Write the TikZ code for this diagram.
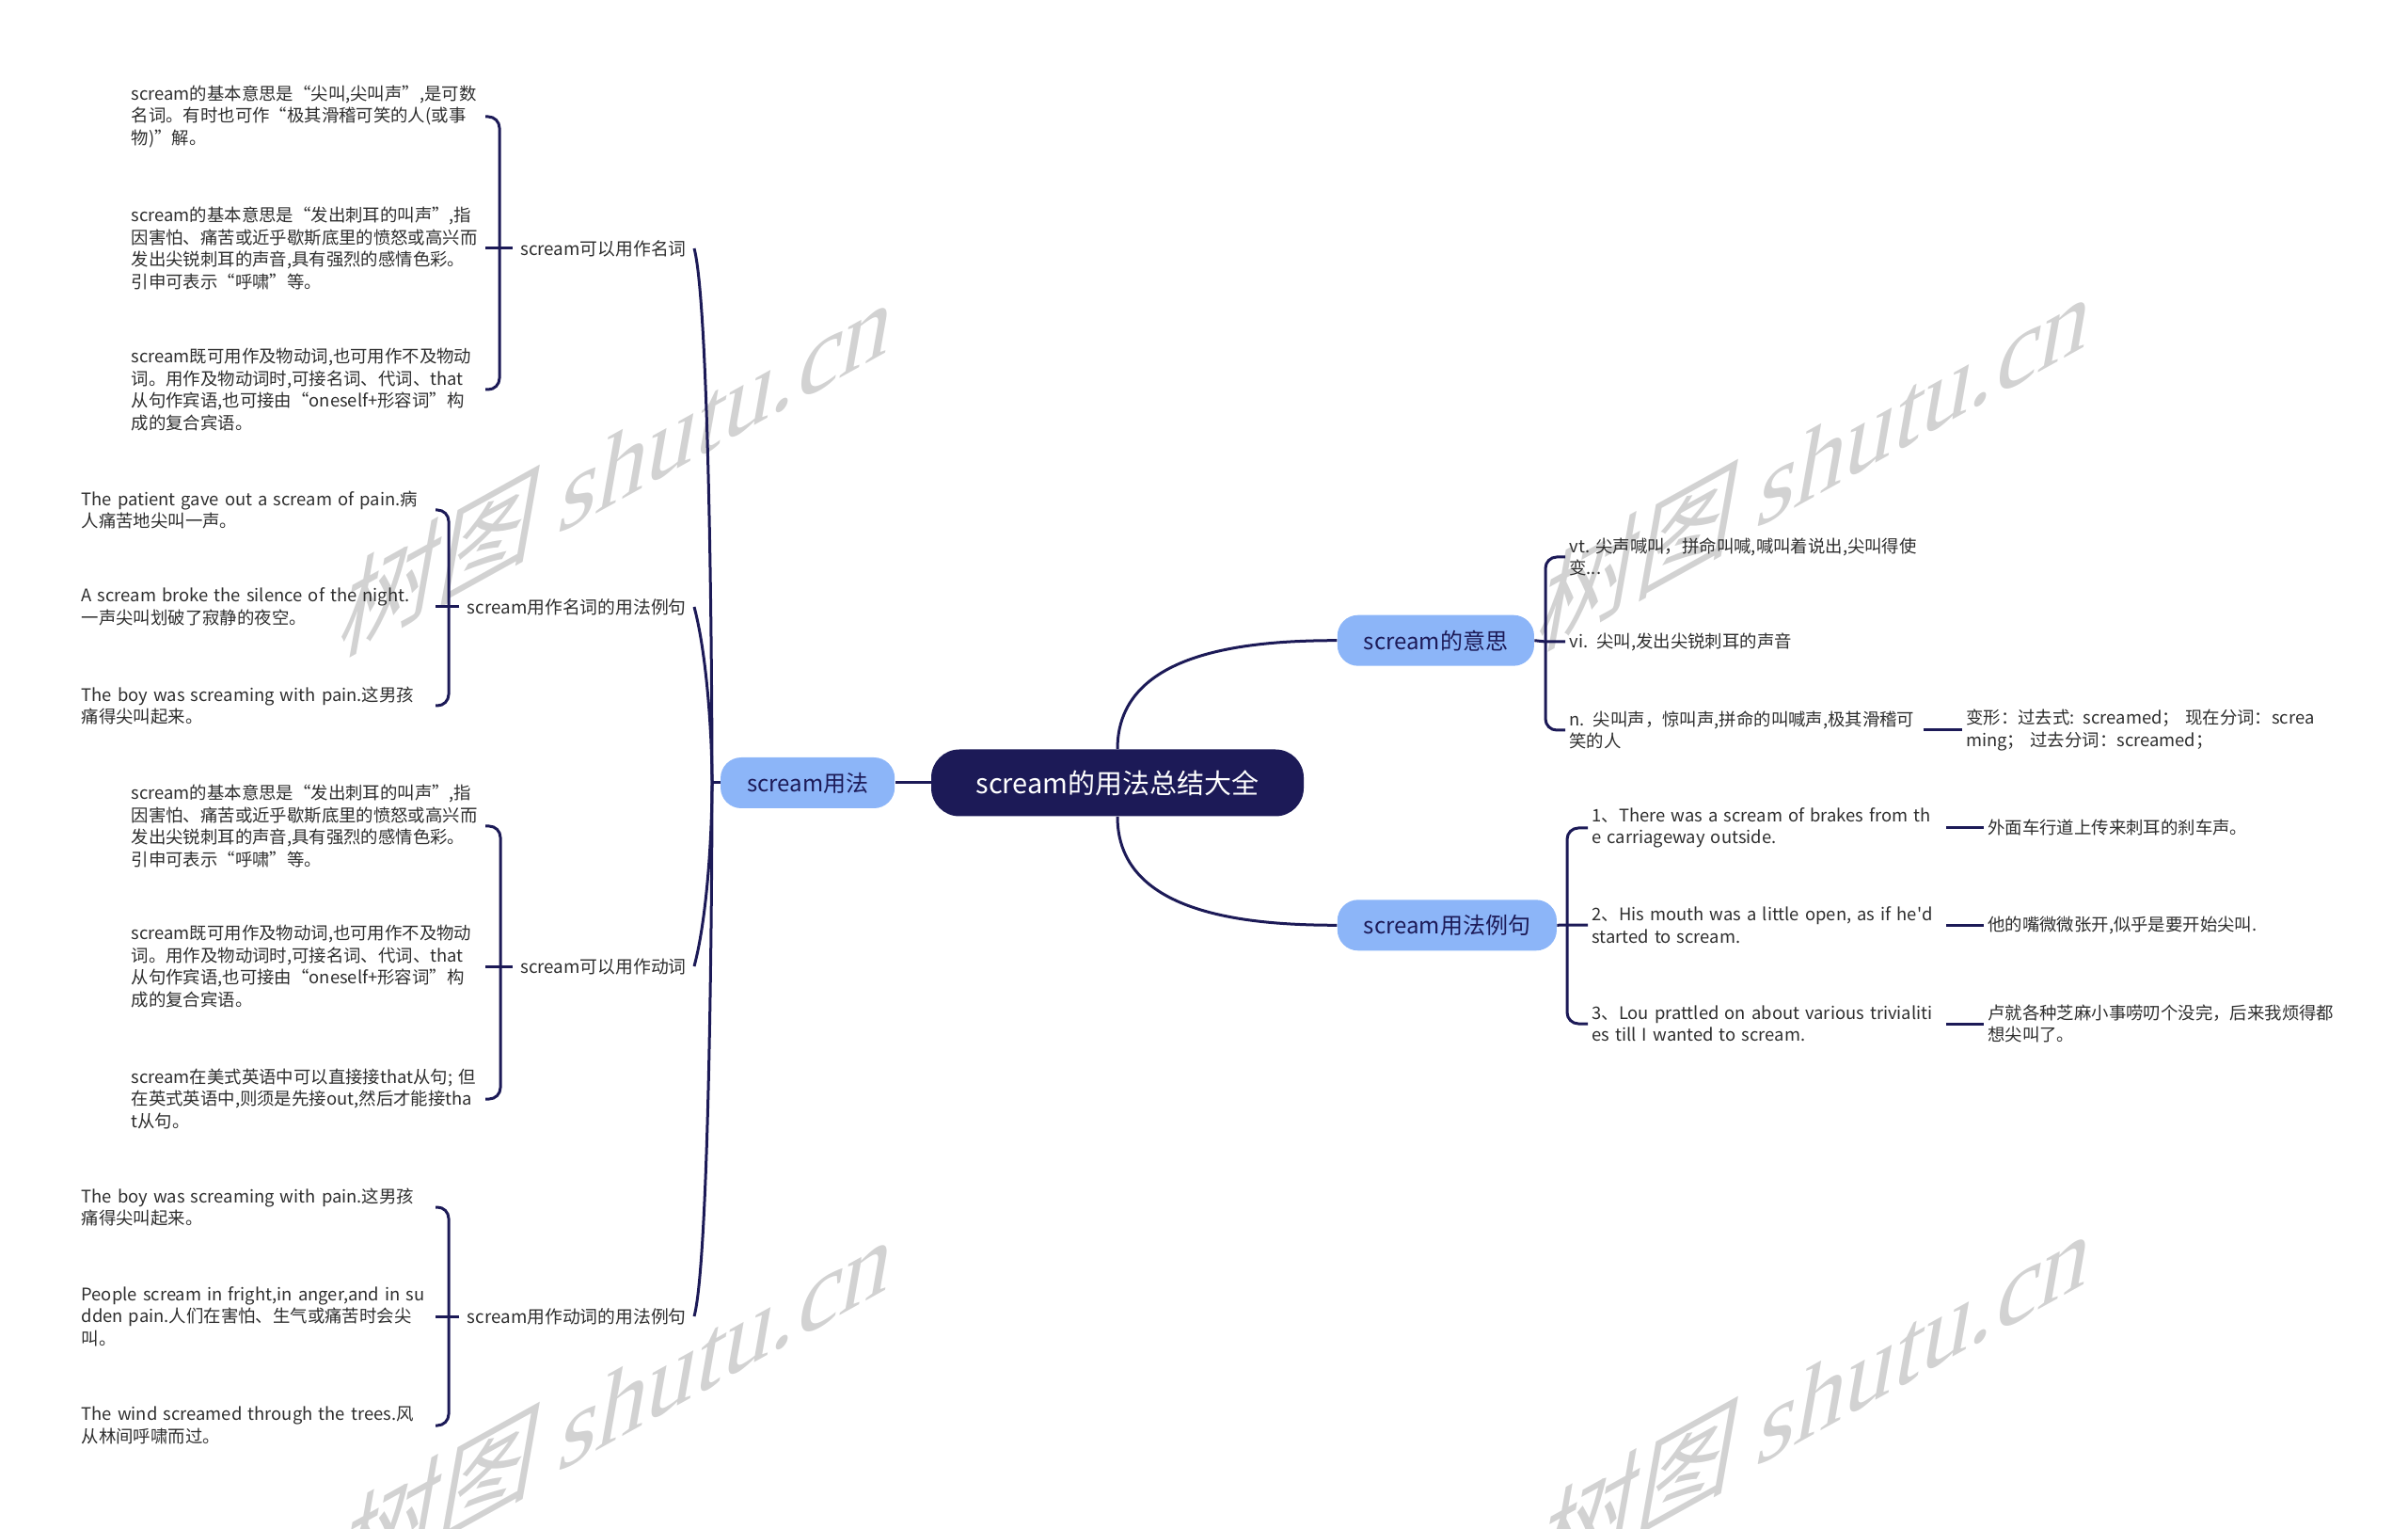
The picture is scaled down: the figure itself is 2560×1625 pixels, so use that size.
\documentclass[tikz,border=0pt]{standalone}
\usepackage{fontspec}
\setmainfont{Noto Sans CJK SC}
\newfontfamily\wmlatin{Liberation Serif}
\usetikzlibrary{positioning}
\definecolor{navy}{HTML}{1C1A57}
\definecolor{skyfill}{HTML}{8CB5F8}
\definecolor{inkgray}{HTML}{2E2E2E}
\definecolor{markgray}{HTML}{D2D2D2}

\begin{document}
\begin{tikzpicture}[
    x=0.5pt, y=-0.5pt,
    link/.style={draw=navy, line width=1.5pt},
    brace/.style={link, rounded corners=6pt},
    root/.style={fill=navy, text=white, rounded corners=15pt, font=\fontsize{14.5}{17}\selectfont, minimum width=198pt, minimum height=35.5pt, inner sep=0pt},
    topic/.style={fill=skyfill, text=navy, rounded corners=11pt, font=\fontsize{12}{14}\selectfont, inner xsep=14pt, inner ysep=0pt, minimum height=27pt},
    branch/.style={text=inkgray, font=\fontsize{9.4}{12}\selectfont, inner xsep=4pt, inner ysep=2pt},
    leaf/.style={text=inkgray, font=\fontsize{9.2}{11.7}\selectfont, align=left, text width=186pt, inner xsep=2pt, inner ysep=1pt},
    wmark/.style={text=markgray, font=\fontsize{60}{64}\selectfont, inner sep=0pt, transform shape}
  ]
    \useasboundingbox (0,0) rectangle (2560,1625);
    \clip (0,0) rectangle (2560,1625);

    \foreach \mx/\my [count=\k] in {658/492, 1932/486, 658/1488, 1932/1482} {
      \begin{scope}[shift={(\mx,\my)}, cm={0.875,0.485,0.174,0.985,(0,0)}]
        \node[wmark] (mark\k) at (0,0) {树图 {\wmlatin shutu.cn}};
      \end{scope}
    }

    \node[root] (root) at (1188,832) {scream的用法总结大全};
    \node[topic, left=19pt of root] (usage) {scream用法};
    \node[topic, above right=44pt and 17.5pt of root] (meaning) {scream的意思};
    \node[topic, below right=44pt and 17.5pt of root] (examples) {scream用法例句};

    \node[branch, anchor=east] (nounuse) at (738,264) {scream可以用作名词};
    \node[branch, anchor=east] (nounex) at (738,645) {scream用作名词的用法例句};
    \node[branch, anchor=east] (verbuse) at (738,1027) {scream可以用作动词};
    \node[branch, anchor=east] (verbex) at (738,1399) {scream用作动词的用法例句};

    \node[leaf, anchor=east] (nouna) at (516,124) {scream的基本意思是“尖叫,尖叫声”,是可数\\名词。有时也可作“极其滑稽可笑的人(或事\\物)”解。};
    \node[leaf, anchor=east] (nounb) at (516,264) {scream的基本意思是“发出刺耳的叫声”,指\\因害怕、痛苦或近乎歇斯底里的愤怒或高兴而\\发出尖锐刺耳的声音,具有强烈的感情色彩。\\引申可表示“呼啸”等。};
    \node[leaf, anchor=east] (nounc) at (516,414) {scream既可用作及物动词,也可用作不及物动\\词。用作及物动词时,可接名词、代词、that\\从句作宾语,也可接由“oneself+形容词”构\\成的复合宾语。};

    \node[leaf, anchor=east] (nsenta) at (463,542) {The patient gave out a scream of pain.病\\人痛苦地尖叫一声。};
    \node[leaf, anchor=east] (nsentb) at (463,645) {A scream broke the silence of the night.\\一声尖叫划破了寂静的夜空。};
    \node[leaf, anchor=east] (nsentc) at (463,750) {The boy was screaming with pain.这男孩\\痛得尖叫起来。};

    \node[leaf, anchor=east] (verba) at (516,878) {scream的基本意思是“发出刺耳的叫声”,指\\因害怕、痛苦或近乎歇斯底里的愤怒或高兴而\\发出尖锐刺耳的声音,具有强烈的感情色彩。\\引申可表示“呼啸”等。};
    \node[leaf, anchor=east] (verbb) at (516,1027) {scream既可用作及物动词,也可用作不及物动\\词。用作及物动词时,可接名词、代词、that\\从句作宾语,也可接由“oneself+形容词”构\\成的复合宾语。};
    \node[leaf, anchor=east] (verbc) at (516,1168) {scream在美式英语中可以直接接that从句; 但\\在英式英语中,则须是先接out,然后才能接tha\\t从句。};

    \node[leaf, anchor=east] (vsenta) at (463,1283) {The boy was screaming with pain.这男孩\\痛得尖叫起来。};
    \node[leaf, anchor=east] (vsentb) at (463,1399) {People scream in fright,in anger,and in su\\dden pain.人们在害怕、生气或痛苦时会尖\\叫。};
    \node[leaf, anchor=east] (vsentc) at (463,1515) {The wind screamed through the trees.风\\从林间呼啸而过。};

    \node[leaf, anchor=west] (vt) at (1664,592) {vt.~尖声喊叫，拼命叫喊,喊叫着说出,尖叫得使\\变...};
    \node[leaf, anchor=west] (vi) at (1664,682) {vi. 尖叫,发出尖锐刺耳的声音};
    \node[leaf, anchor=west] (nn) at (1664,776) {n. 尖叫声，惊叫声,拼命的叫喊声,极其滑稽可\\笑的人};
    \node[leaf, right=20.5pt of nn] (morph) {变形：过去式: screamed； 现在分词：screa\\ming； 过去分词：screamed；};

    \node[leaf, anchor=west] (exa) at (1688,880) {1、There was a scream of brakes from th\\e carriageway outside.};
    \node[leaf, anchor=west] (exb) at (1688,983) {2、His mouth was a little open, as~if~he\textquotesingle d\\started to scream.};
    \node[leaf, anchor=west] (exc) at (1688,1088) {3、Lou prattled on about various trivialiti\\es till I wanted to scream.};
    \node[leaf, right=20pt of exa] (tra) {外面车行道上传来刺耳的刹车声。};
    \node[leaf, right=20pt of exb] (trb) {他的嘴微微张开,似乎是要开始尖叫.};
    \node[leaf, right=20pt of exc] (trc) {卢就各种芝麻小事唠叨个没完，后来我烦得都\\想尖叫了。};

    \coordinate (jL) at (757,832);
    \coordinate (jA) at (531,264);
    \coordinate (jB) at (477,645);
    \coordinate (jC) at (532,1027);
    \coordinate (jD) at (477,1399);
    \coordinate (jM) at (1643,682);
    \coordinate (jE) at (1666,983);

    \draw[link] (root.west) -- (usage.east);
    \draw[link] (root.north) to[out=90,in=180] (meaning.west);
    \draw[link] (root.south) to[out=-90,in=180] (examples.west);

    \draw[link] (usage.west) -- (jL);
    \draw[link] (jL) to[out=90,in=-75,looseness=.3] (nounuse.east);
    \draw[link] (jL) to[out=90,in=-75,looseness=.7] (nounex.east);
    \draw[link] (jL) to[out=-90,in=75,looseness=.7] (verbuse.east);
    \draw[link] (jL) to[out=-90,in=75,looseness=.3] (verbex.east);

    \draw[link] (nounuse.west) -- (jA) -- (nounb.east);
    \draw[brace] (jA) |- (nouna.east);
    \draw[brace] (jA) |- (nounc.east);
    \draw[link] (nounex.west) -- (jB) -- (nsentb.east);
    \draw[brace] (jB) |- (nsenta.east);
    \draw[brace] (jB) |- (nsentc.east);
    \draw[link] (verbuse.west) -- (jC) -- (verbb.east);
    \draw[brace] (jC) |- (verba.east);
    \draw[brace] (jC) |- (verbc.east);
    \draw[link] (verbex.west) -- (jD) -- (vsentb.east);
    \draw[brace] (jD) |- (vsenta.east);
    \draw[brace] (jD) |- (vsentc.east);

    \draw[link] (meaning.east) -- (jM) -- (vi.west);
    \draw[brace] (jM) |- (vt.west);
    \draw[brace] (jM) |- (nn.west);
    \draw[link] (nn.east) -- (morph.west);

    \draw[link] (examples.east) -- (jE) -- (exb.west);
    \draw[brace] (jE) |- (exa.west);
    \draw[brace] (jE) |- (exc.west);
    \draw[link] (exa.east) -- (tra.west);
    \draw[link] (exb.east) -- (trb.west);
    \draw[link] (exc.east) -- (trc.west);
  \end{tikzpicture}
\end{document}
